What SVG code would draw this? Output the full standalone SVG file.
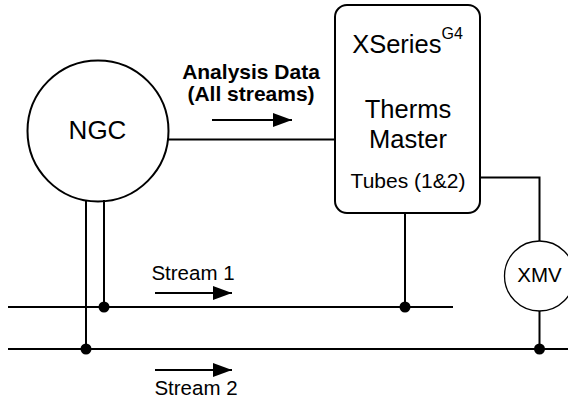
<svg xmlns="http://www.w3.org/2000/svg" width="568" height="402" viewBox="0 0 568 402">
<style>
.ln{stroke:#000;stroke-width:2;fill:none}
.t{font-family:"Liberation Sans",Arial,sans-serif;fill:#000;text-anchor:middle}
.b{font-weight:bold}
.dot{fill:#000}
</style>
<defs>
<marker id="ah" markerWidth="20" markerHeight="16" refX="19" refY="7" orient="auto" markerUnits="userSpaceOnUse">
<path d="M0,0 L19,7 L0,14 Z" fill="#000"/>
</marker>
</defs>
<rect width="568" height="402" fill="#fff"/>
<g id="connectors">
<line class="ln" x1="167" y1="139.5" x2="335" y2="139.5"/>
<line class="ln" x1="86" y1="200" x2="86" y2="349"/>
<line class="ln" x1="104" y1="200" x2="104" y2="307"/>
<line class="ln" x1="405" y1="213" x2="405" y2="307"/>
<polyline class="ln" points="480,177.5 539.5,177.5 539.5,241"/>
<line class="ln" x1="539.5" y1="311" x2="539.5" y2="349"/>
<line class="ln" x1="8" y1="307" x2="453" y2="307"/>
<line class="ln" x1="8" y1="349" x2="568" y2="349"/>
<circle class="dot" cx="104" cy="307" r="5.5"/>
<circle class="dot" cx="405" cy="307" r="5.5"/>
<circle class="dot" cx="86" cy="349" r="5.5"/>
<circle class="dot" cx="539.5" cy="349" r="5.5"/>
<line class="ln" x1="212" y1="120" x2="292" y2="120" marker-end="url(#ah)"/>
<line class="ln" x1="155" y1="293" x2="232" y2="293" marker-end="url(#ah)"/>
<line class="ln" x1="155" y1="370" x2="232" y2="370" marker-end="url(#ah)"/>
</g>
<g id="ngc">
<circle class="ln" cx="98" cy="131" r="70.5"/>
<text class="t" x="97.5" y="138.5" font-size="26">NGC</text>
</g>
<g id="xseries">
<rect class="ln" x="335" y="5" width="145" height="208" rx="12"/>
<text class="t" x="407.5" y="53" font-size="25.5">XSeries<tspan font-size="16" dy="-14">G4</tspan></text>
<text class="t" x="408" y="118" font-size="25.5">Therms</text>
<text class="t" x="408" y="148" font-size="25.5">Master</text>
<text class="t" x="408" y="188" font-size="21">Tubes (1&amp;2)</text>
</g>
<g id="xmv">
<circle cx="539.5" cy="276" r="35" fill="none" stroke="#000" stroke-width="1.3"/>
<text class="t" x="539.5" y="282" font-size="20.5">XMV</text>
</g>
<g id="labels">
<text class="t b" x="251" y="79" font-size="21">Analysis Data</text>
<text class="t b" x="251" y="101" font-size="21">(All streams)</text>
<text class="t" x="193" y="280" font-size="20.5">Stream 1</text>
<text class="t" x="196" y="395" font-size="20.5">Stream 2</text>
</g>
</svg>
